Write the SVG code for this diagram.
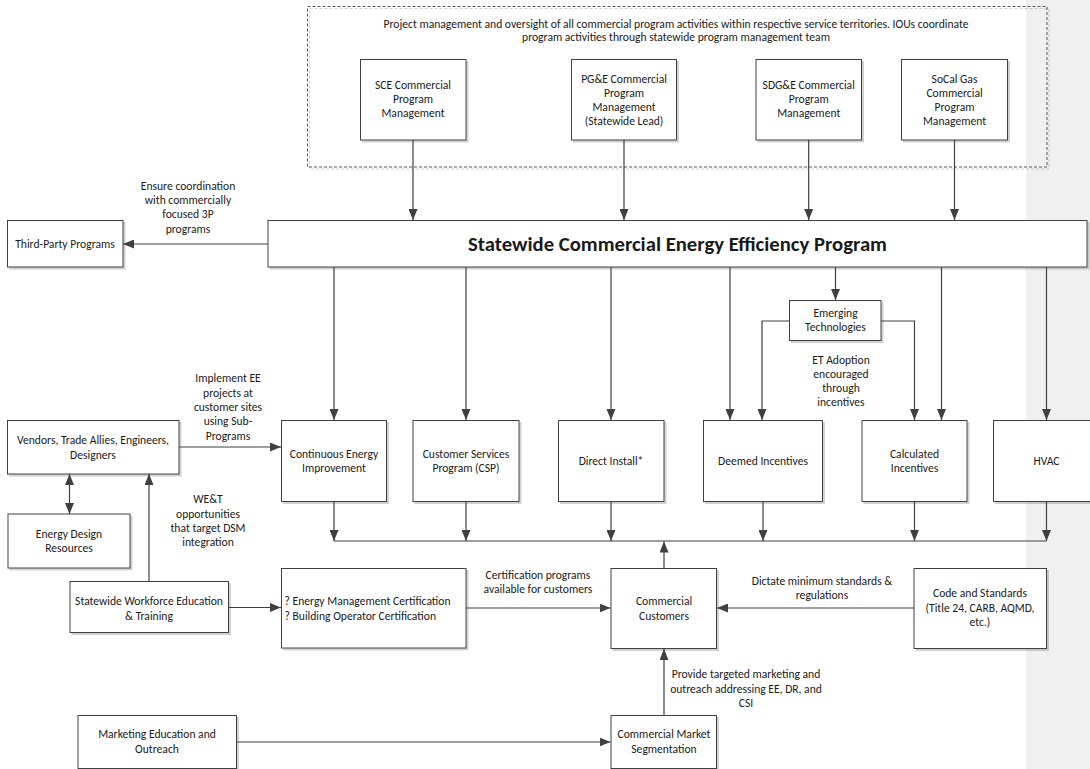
<svg xmlns="http://www.w3.org/2000/svg" width="1090" height="769" viewBox="0 0 1090 769">
  <style>
    .box { fill: #ffffff; stroke: #404040; stroke-width: 1; filter: url(#shadow); }
    .frame { fill: none; stroke: #595959; stroke-width: 1; stroke-dasharray: 3 2; filter: url(#shadow); }
    text { font-family: Carlito, Lato, "Liberation Sans", sans-serif; font-size: 11.6px; fill: #1a1a1a; text-anchor: middle; dominant-baseline: central; }
    .title { font-size: 20.7px; font-weight: bold; }
    .left { text-anchor: start; }
    .wire { fill: none; stroke: #404040; stroke-width: 1.2; }
    .arrow { marker-end: url(#head); }
    .both { marker-start: url(#head); marker-end: url(#head); }
  </style>
  <defs>
    <filter id="shadow" x="-5%" y="-5%" width="115%" height="120%">
      <feDropShadow dx="2" dy="2" stdDeviation="0.6" flood-color="#000000" flood-opacity="0.18"/>
    </filter>
    <marker id="head" markerUnits="userSpaceOnUse" markerWidth="11" markerHeight="9" refX="11" refY="4.5" orient="auto-start-reverse">
      <path d="M0,0 L11,4.5 L0,9 z" fill="#404040"/>
    </marker>
  </defs>

  <!-- background band on the right edge -->
  <rect x="1026" y="0" width="64" height="769" fill="#f0f0f0"/>

  <!-- IOU program management frame -->
  <g id="iou-frame">
    <rect class="frame" x="307.5" y="6.5" width="739.5" height="160.5"/>
    <text x="676" y="24">Project management and oversight of all commercial program activities within respective service territories. IOUs coordinate</text>
    <text x="676" y="37">program activities through statewide program management team</text>
  </g>

  <g id="sce">
    <rect class="box" x="360.5" y="59.5" width="105.5" height="80.5"/>
    <text x="413" y="85">SCE Commercial</text>
    <text x="413" y="99">Program</text>
    <text x="413" y="113">Management</text>
  </g>
  <g id="pge">
    <rect class="box" x="571.5" y="59.5" width="105" height="80.5"/>
    <text x="624" y="79">PG&amp;E Commercial</text>
    <text x="624" y="93">Program</text>
    <text x="624" y="107">Management</text>
    <text x="624" y="121">(Statewide Lead)</text>
  </g>
  <g id="sdge">
    <rect class="box" x="756" y="59.5" width="105.5" height="80.5"/>
    <text x="808.7" y="85">SDG&amp;E Commercial</text>
    <text x="808.7" y="99">Program</text>
    <text x="808.7" y="113">Management</text>
  </g>
  <g id="socalgas">
    <rect class="box" x="901.5" y="59.5" width="106" height="80.5"/>
    <text x="954.5" y="79">SoCal Gas</text>
    <text x="954.5" y="93">Commercial</text>
    <text x="954.5" y="107">Program</text>
    <text x="954.5" y="121">Management</text>
  </g>

  <g id="statewide-program">
    <rect class="box" x="268" y="220.5" width="819" height="46.5"/>
    <text class="title" x="677.5" y="244">Statewide Commercial Energy Efficiency Program</text>
  </g>

  <g id="third-party">
    <rect class="box" x="7.5" y="220.5" width="115.5" height="46.5"/>
    <text x="65" y="244">Third-Party Programs</text>
  </g>

  <g id="emerging-tech">
    <rect class="box" x="789.5" y="300.5" width="91.5" height="40"/>
    <text x="835.5" y="313">Emerging</text>
    <text x="835.5" y="327">Technologies</text>
  </g>

  <g id="cei">
    <rect class="box" x="281.5" y="420.5" width="105" height="81"/>
    <text x="334" y="454">Continuous Energy</text>
    <text x="334" y="468">Improvement</text>
  </g>
  <g id="csp">
    <rect class="box" x="413" y="420.5" width="106" height="81"/>
    <text x="466" y="454">Customer Services</text>
    <text x="466" y="468">Program (CSP)</text>
  </g>
  <g id="direct-install">
    <rect class="box" x="558.5" y="420.5" width="105.5" height="81"/>
    <text x="611" y="461">Direct Install*</text>
  </g>
  <g id="deemed">
    <rect class="box" x="703.5" y="420.5" width="119" height="81"/>
    <text x="763" y="461">Deemed Incentives</text>
  </g>
  <g id="calculated">
    <rect class="box" x="862" y="420.5" width="105" height="81"/>
    <text x="914.5" y="454">Calculated</text>
    <text x="914.5" y="468">Incentives</text>
  </g>
  <g id="hvac">
    <rect class="box" x="993.5" y="420.5" width="106" height="81"/>
    <text x="1046.5" y="461">HVAC</text>
  </g>

  <g id="vendors">
    <rect class="box" x="7.5" y="420.5" width="171.5" height="53.5"/>
    <text x="93" y="440">Vendors, Trade Allies, Engineers,</text>
    <text x="93" y="455">Designers</text>
  </g>
  <g id="energy-design">
    <rect class="box" x="8" y="514" width="122" height="54"/>
    <text x="69" y="534">Energy Design</text>
    <text x="69" y="548">Resources</text>
  </g>
  <g id="wet">
    <rect class="box" x="70" y="581.5" width="158.5" height="51"/>
    <text x="149" y="601">Statewide Workforce Education</text>
    <text x="149" y="615.5">&amp; Training</text>
  </g>
  <g id="certification">
    <rect class="box" x="281.5" y="568.5" width="184.5" height="79.5"/>
    <text class="left" x="284.5" y="601">? Energy Management Certification</text>
    <text class="left" x="284.5" y="615.5">? Building Operator Certification</text>
  </g>
  <g id="customers">
    <rect class="box" x="611" y="568.5" width="105.5" height="80"/>
    <text x="664" y="601">Commercial</text>
    <text x="664" y="615.5">Customers</text>
  </g>
  <g id="codes">
    <rect class="box" x="914" y="568.5" width="132.5" height="80"/>
    <text x="980" y="593">Code and Standards</text>
    <text x="980" y="607.5">(Title 24, CARB, AQMD,</text>
    <text x="980" y="622">etc.)</text>
  </g>
  <g id="marketing">
    <rect class="box" x="78" y="715.5" width="158.5" height="53"/>
    <text x="157" y="734">Marketing Education and</text>
    <text x="157" y="749">Outreach</text>
  </g>
  <g id="segmentation">
    <rect class="box" x="611" y="715.5" width="105.5" height="53"/>
    <text x="664" y="734">Commercial Market</text>
    <text x="664" y="749">Segmentation</text>
  </g>

  <g id="connectors">
    <!-- IOU management into the statewide program -->
    <path class="wire arrow" d="M413,140 V220"/>
    <path class="wire arrow" d="M624,140 V220"/>
    <path class="wire arrow" d="M808.7,140 V220"/>
    <path class="wire arrow" d="M954.5,140 V220"/>
    <path class="wire arrow" d="M268,244 H123"/>
    <!-- statewide program down to sub-programs -->
    <path class="wire arrow" d="M334,267 V420"/>
    <path class="wire arrow" d="M466,267 V420"/>
    <path class="wire arrow" d="M611,267 V420"/>
    <path class="wire arrow" d="M730,267 V420"/>
    <path class="wire arrow" d="M835.5,267 V300"/>
    <path class="wire arrow" d="M941.5,267 V420"/>
    <path class="wire arrow" d="M1046.5,267 V420"/>
    <!-- emerging technologies feeding incentives -->
    <path class="wire arrow" d="M789.5,321 H762 V420"/>
    <path class="wire arrow" d="M881,321 H914.5 V420"/>
    <!-- sub-programs into the shared bus -->
    <path class="wire arrow" d="M334,501.5 V541"/>
    <path class="wire arrow" d="M466,501.5 V541"/>
    <path class="wire arrow" d="M611,501.5 V541"/>
    <path class="wire arrow" d="M763,501.5 V541"/>
    <path class="wire arrow" d="M914.5,501.5 V541"/>
    <path class="wire arrow" d="M1046.5,501.5 V541"/>
    <path class="wire" d="M334,541 H1046.5"/>
    <path class="wire arrow" d="M664,568.5 V541.5"/>
    <!-- left-hand side -->
    <path class="wire arrow" d="M179,447 H281"/>
    <path class="wire both" d="M69.5,474 V514"/>
    <path class="wire arrow" d="M149,581.5 V474"/>
    <path class="wire arrow" d="M228.5,607.5 H281"/>
    <path class="wire arrow" d="M466,608 H610.5"/>
    <path class="wire arrow" d="M914,608 H717"/>
    <path class="wire arrow" d="M664,715.5 V649"/>
    <path class="wire arrow" d="M236.5,742 H610.5"/>

    <!-- connector labels -->
    <text x="188" y="185.5">Ensure coordination</text>
    <text x="188" y="199.5">with commercially</text>
    <text x="188" y="214">focused 3P</text>
    <text x="188" y="228.5">programs</text>

    <text x="228" y="378">Implement EE</text>
    <text x="228" y="393">projects at</text>
    <text x="228" y="407">customer sites</text>
    <text x="228" y="421">using Sub-</text>
    <text x="228" y="436">Programs</text>

    <text x="208" y="499">WE&amp;T</text>
    <text x="208" y="514">opportunities</text>
    <text x="208" y="528">that target DSM</text>
    <text x="208" y="542">integration</text>

    <text x="841" y="360">ET Adoption</text>
    <text x="841" y="373.5">encouraged</text>
    <text x="841" y="387.5">through</text>
    <text x="841" y="401.5">incentives</text>

    <text x="538" y="575">Certification programs</text>
    <text x="538" y="589">available for customers</text>

    <text x="822" y="581">Dictate minimum standards &amp;</text>
    <text x="822" y="595">regulations</text>

    <text x="746" y="674">Provide targeted marketing and</text>
    <text x="746" y="688.5">outreach addressing EE, DR, and</text>
    <text x="746" y="703">CSI</text>
  </g>
</svg>
